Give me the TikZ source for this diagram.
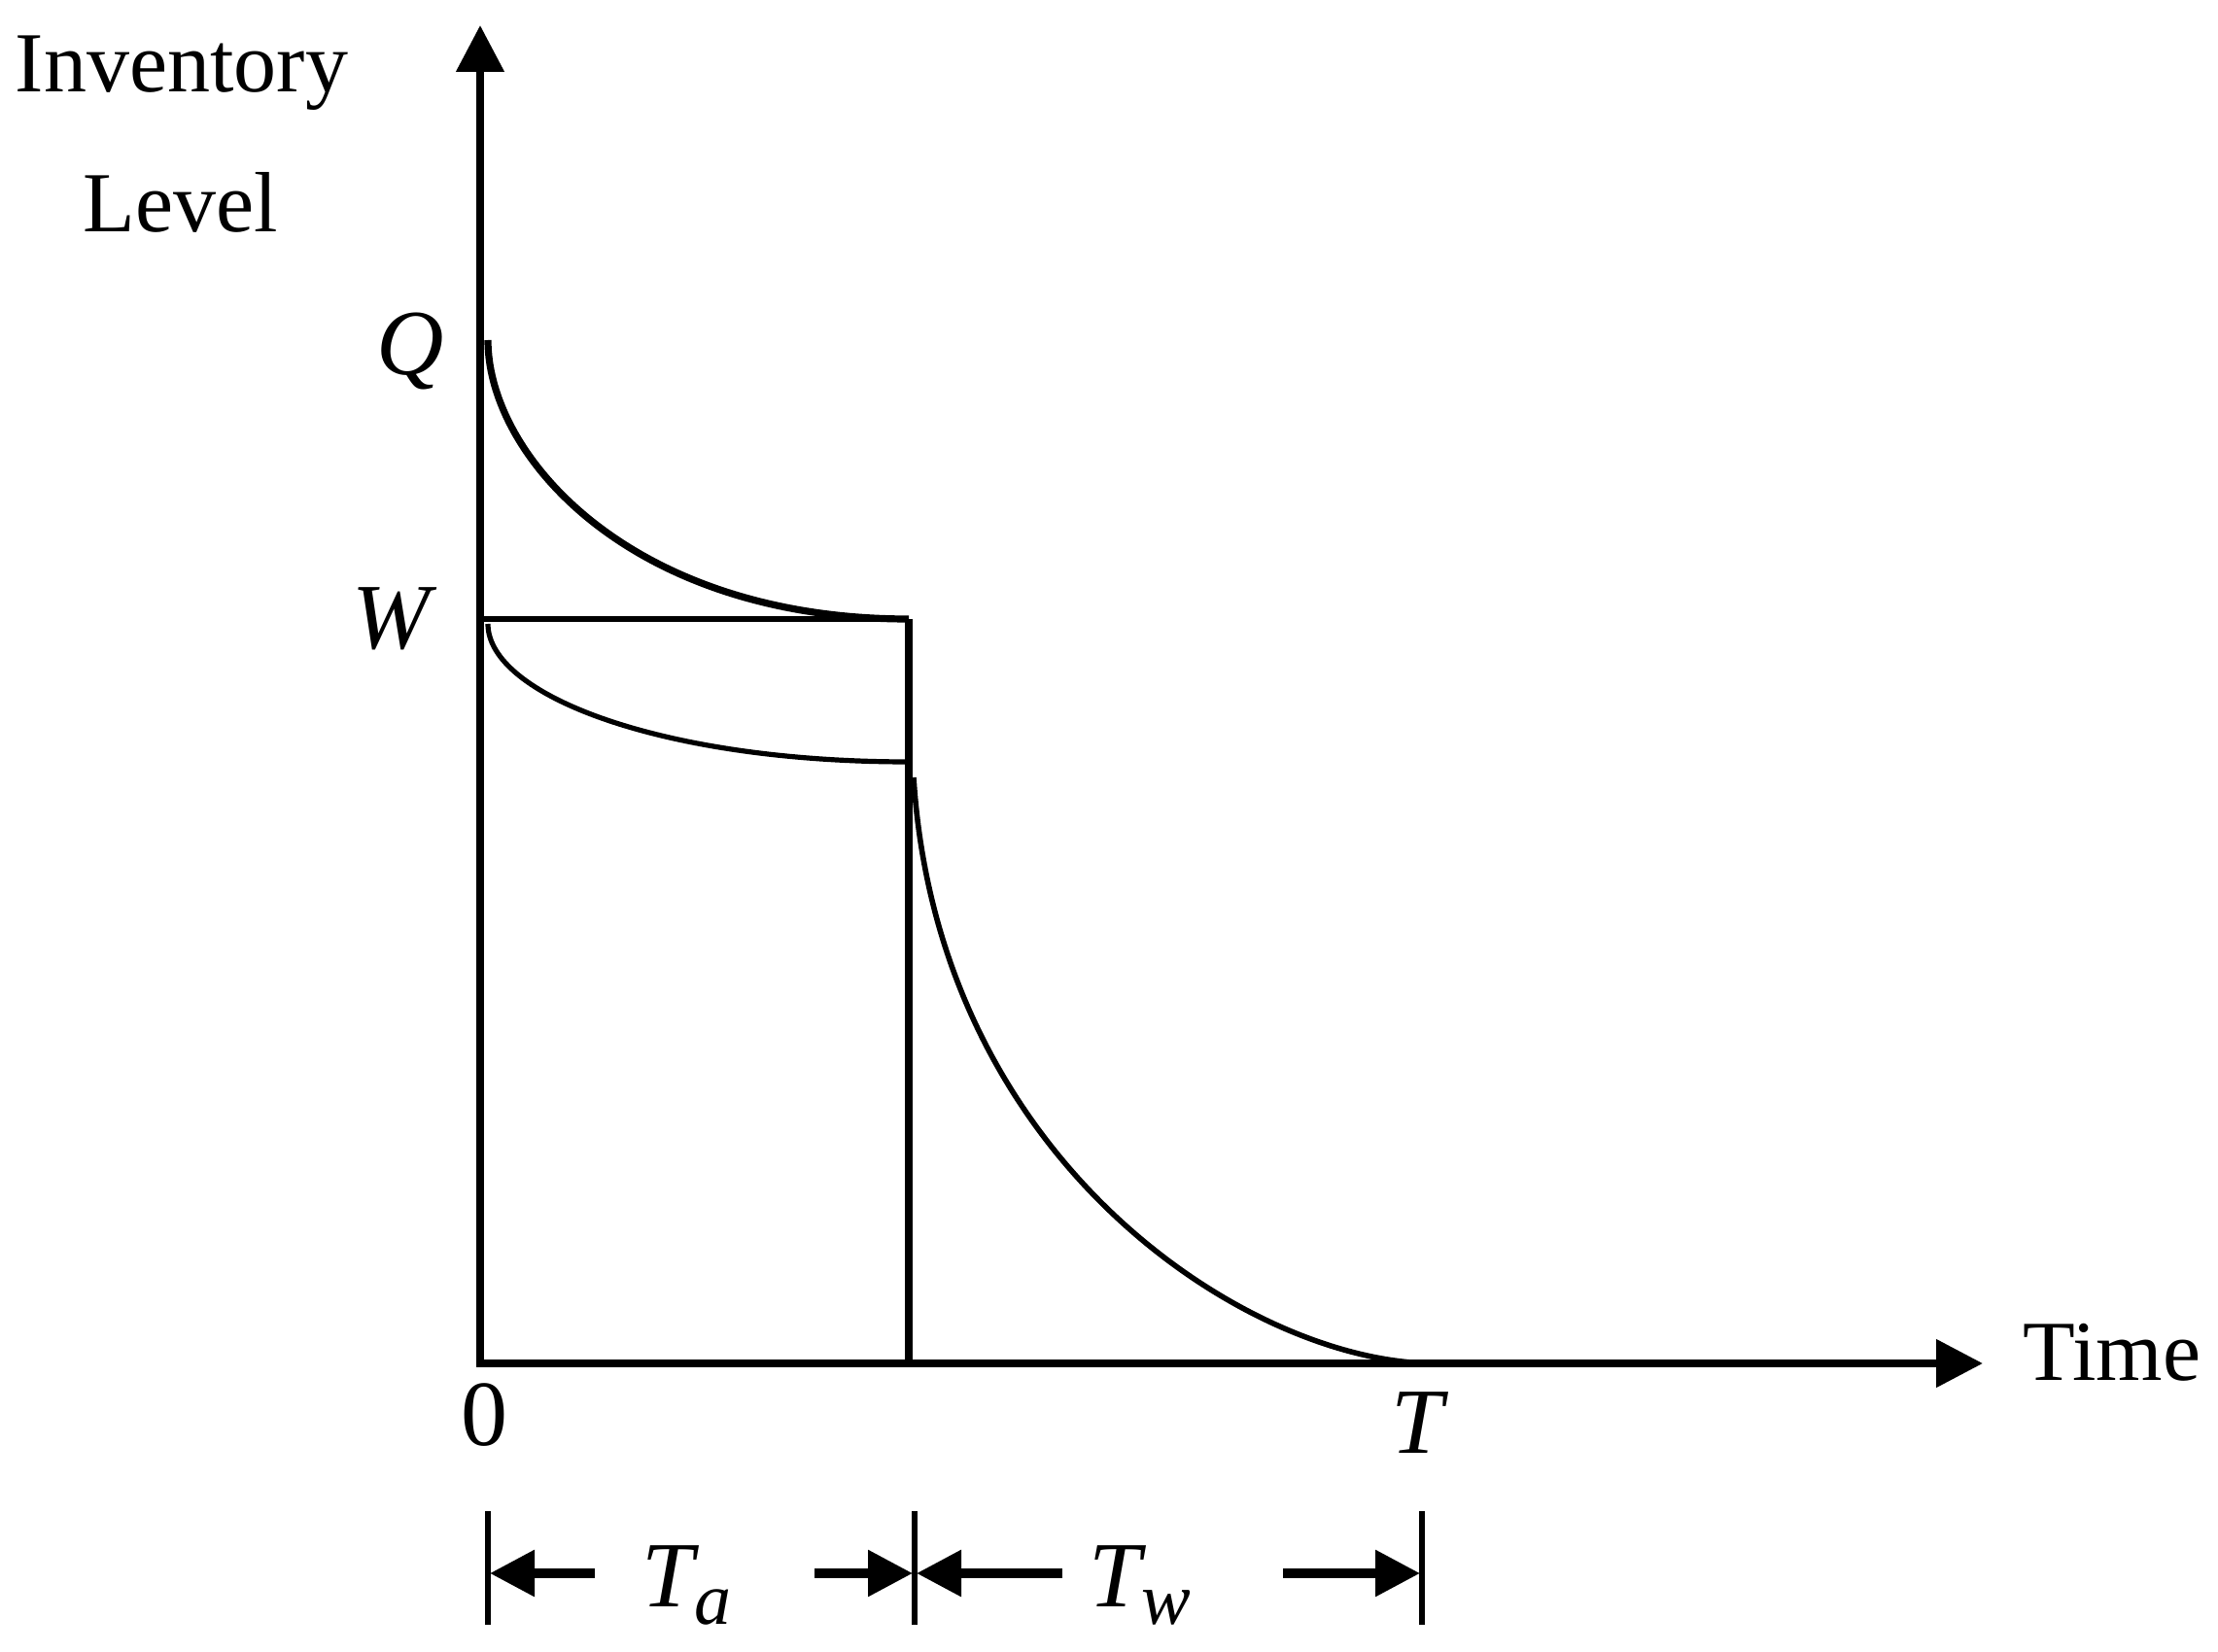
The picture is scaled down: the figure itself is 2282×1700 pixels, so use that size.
\documentclass[tikz,border=0pt]{standalone}
\usepackage{fontspec}
\setmainfont{Liberation Serif}
\usetikzlibrary{arrows.meta,calc}
\begin{document}
\begin{tikzpicture}[x=0.25pt,y=-0.25pt,
  txt/.style={inner sep=0pt,font=\fontsize{22pt}{24pt}\selectfont},
  lbl/.style={inner sep=0pt,font=\fontsize{24pt}{26pt}\selectfont\itshape},
  axis/.style={line width=2pt,-{Triangle[length=12pt,width=12pt]}},
  curvethick/.style={line width=1.8pt},
  curvethin/.style={line width=1.3pt},
  dimarrow/.style={line width=2.3pt,-{Triangle[length=11.5pt,width=11.5pt]}},
  tickline/.style={line width=1.7pt}]
\useasboundingbox (0,0) rectangle (2282,1700);
% coordinates
\coordinate (O) at (494,1403);
\coordinate (Ox) at (490,1403);
\coordinate (ytip) at (494,26);
\coordinate (xtip) at (2040,1403);
\coordinate (Qp) at (502,350);
\coordinate (Wl) at (494,637);
\coordinate (Wr) at (935,637);
\coordinate (Lb) at (502,642);
\coordinate (Le) at (935,784);
\coordinate (Vb) at (935,1403);
\coordinate (Ds) at (940,800);
\coordinate (De) at (1475,1403);
% axes
\draw[axis] (O) -- (ytip);
\draw[axis] (Ox) -- (xtip);
% curves and lines
\draw[curvethick] (Qp) .. controls (502,470) and (650,637) .. (Wr);
\draw[line width=1.4pt] (Wl) -- (Wr);
\draw[curvethin] (Lb) .. controls (502,715) and (680,784) .. (Le);
\draw[line width=2.2pt] (Wr) -- (Vb);
\draw[line width=1.4pt] (Ds) .. controls (965,1200) and (1290,1403) .. (De);
% labels
\node[txt,anchor=base] (inv) at (187,95) {Inventory};
\node[txt,anchor=base] (lev) at (186,239) {Level};
\node[txt,anchor=base west] (time) at (2081,1420) {Time};
\node[lbl,anchor=base] (Q) at (422,386) {Q};
\node[lbl,anchor=base] (W) at (402,668) {W};
\node[inner sep=0pt,font=\fontsize{24pt}{26pt}\selectfont,anchor=base] (zero) at (498,1487) {0};
\node[lbl,anchor=base] (T) at (1458,1495) {T};
% dimension marks
\coordinate (t1a) at (502,1555); \coordinate (t1b) at (502,1672);
\coordinate (t2a) at (941,1555); \coordinate (t2b) at (941,1672);
\coordinate (t3a) at (1463,1555); \coordinate (t3b) at (1463,1672);
\draw[tickline] (t1a) -- (t1b);
\draw[tickline] (t2a) -- (t2b);
\draw[tickline] (t3a) -- (t3b);
\coordinate (a1s) at (612,1619); \coordinate (a1e) at (504,1619);
\coordinate (a2s) at (838,1619); \coordinate (a2e) at (939,1619);
\coordinate (a3s) at (1093,1619); \coordinate (a3e) at (943,1619);
\coordinate (a4s) at (1320,1619); \coordinate (a4e) at (1461,1619);
\draw[dimarrow] (a1s) -- (a1e);
\draw[dimarrow] (a2s) -- (a2e);
\draw[dimarrow] (a3s) -- (a3e);
\draw[dimarrow] (a4s) -- (a4e);
\node[lbl,anchor=base west] (Ta) at (660,1653) {T\raisebox{-4.5pt}{\fontsize{19pt}{20pt}\selectfont a}};
\node[lbl,anchor=base west] (Tw) at (1120,1653) {T\raisebox{-4.5pt}{\fontsize{19pt}{20pt}\selectfont w}};
\end{tikzpicture}
\end{document}
